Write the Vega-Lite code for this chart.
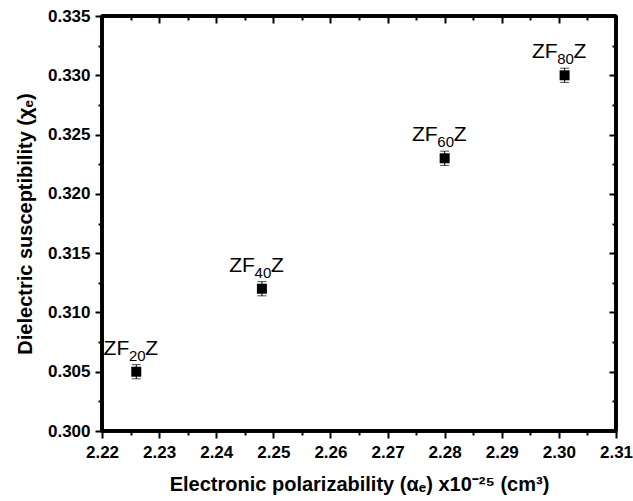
{
  "$schema": "https://vega.github.io/schema/vega-lite/v6.json",
  "width": 514,
  "height": 415,
  "autosize": "none",
  "padding": {"left": 102, "top": 16, "right": 17, "bottom": 70},
  "background": "white",
  "config": {
    "view": {"stroke": "#000000", "strokeWidth": 3},
    "axis": {
      "grid": false,
      "domain": false,
      "tickColor": "#000000",
      "tickWidth": 2,
      "tickOpacity": 1,
      "labelFont": "Liberation Sans",
      "labelFontWeight": "bold",
      "labelFontSize": 17,
      "labelColor": "black",
      "titleFont": "Liberation Sans",
      "titleFontWeight": "bold",
      "titleFontSize": 20,
      "titleColor": "black"
    }
  },
  "data": {
    "values": [
      {"alpha": 2.226, "chi": 0.305, "lo": 0.3044, "hi": 0.3056, "pre": "ZF", "sub": "20", "post": "Z"},
      {"alpha": 2.248, "chi": 0.312, "lo": 0.3114, "hi": 0.3126, "pre": "ZF", "sub": "40", "post": "Z"},
      {"alpha": 2.280, "chi": 0.323, "lo": 0.3224, "hi": 0.3236, "pre": "ZF", "sub": "60", "post": "Z"},
      {"alpha": 2.301, "chi": 0.330, "lo": 0.3294, "hi": 0.3306, "pre": "ZF", "sub": "80", "post": "Z"}
    ]
  },
  "resolve": {"axis": {"x": "independent", "y": "independent"}},
  "layer": [
    {
      "mark": {"type": "rule", "color": "black", "strokeWidth": 1},
      "encoding": {
        "x": {
          "field": "alpha", "type": "quantitative",
          "scale": {"domain": [2.22, 2.31], "nice": false, "zero": false},
          "axis": {
            "orient": "bottom",
            "values": [2.22, 2.225, 2.23, 2.235, 2.24, 2.245, 2.25, 2.255, 2.26, 2.265, 2.27, 2.275, 2.28, 2.285, 2.29, 2.295, 2.3, 2.305, 2.31],
            "labelExpr": "round(datum.value*200) % 2 == 1 ? '' : format(datum.value, '.2f')",
            "tickSize": {"condition": {"test": "round(datum.value*200) % 2 == 1", "value": 4}, "value": 7},
            "labelPadding": 6,
            "labelFlush": false,
            "labelOverlap": false,
            "title": "Electronic polarizability (αₑ) x10⁻²⁵ (cm³)",
            "titlePadding": 14
          }
        },
        "y": {
          "field": "lo", "type": "quantitative",
          "scale": {"domain": [0.3, 0.335], "nice": false, "zero": false},
          "axis": {
            "orient": "left",
            "values": [0.3, 0.3025, 0.305, 0.3075, 0.31, 0.3125, 0.315, 0.3175, 0.32, 0.3225, 0.325, 0.3275, 0.33, 0.3325, 0.335],
            "labelExpr": "round(datum.value*400) % 2 == 1 ? '' : format(datum.value, '.3f')",
            "tickSize": {"condition": {"test": "round(datum.value*400) % 2 == 1", "value": 4}, "value": 7},
            "labelPadding": 5,
            "labelFlush": false,
            "labelOverlap": false,
            "title": "Dielectric susceptibility (χₑ)",
            "titlePadding": 12
          }
        },
        "y2": {"field": "hi"}
      }
    },
    {
      "mark": {"type": "tick", "orient": "horizontal", "color": "black", "size": 9, "thickness": 1},
      "encoding": {
        "x": {"field": "alpha", "type": "quantitative", "axis": null},
        "y": {"field": "lo", "type": "quantitative", "axis": null}
      }
    },
    {
      "mark": {"type": "tick", "orient": "horizontal", "color": "black", "size": 9, "thickness": 1},
      "encoding": {
        "x": {"field": "alpha", "type": "quantitative", "axis": null},
        "y": {"field": "hi", "type": "quantitative", "axis": null}
      }
    },
    {
      "mark": {"type": "square", "size": 100, "color": "black", "filled": true, "opacity": 1},
      "encoding": {
        "x": {
          "field": "alpha", "type": "quantitative",
          "axis": {
            "orient": "top",
            "values": [2.22, 2.225, 2.23, 2.235, 2.24, 2.245, 2.25, 2.255, 2.26, 2.265, 2.27, 2.275, 2.28, 2.285, 2.29, 2.295, 2.3, 2.305, 2.31],
            "labels": false,
            "tickSize": {"condition": {"test": "round(datum.value*200) % 2 == 1", "value": -4}, "value": -7},
            "title": null
          }
        },
        "y": {
          "field": "chi", "type": "quantitative",
          "axis": {
            "orient": "right",
            "values": [0.3, 0.3025, 0.305, 0.3075, 0.31, 0.3125, 0.315, 0.3175, 0.32, 0.3225, 0.325, 0.3275, 0.33, 0.3325, 0.335],
            "labels": false,
            "tickSize": {"condition": {"test": "round(datum.value*400) % 2 == 1", "value": -4}, "value": -7},
            "title": null
          }
        }
      }
    },
    {
      "mark": {"type": "text", "font": "Liberation Sans", "fontSize": 21, "color": "black", "align": "right", "baseline": "alphabetic", "dx": -7, "dy": -17},
      "encoding": {
        "x": {"field": "alpha", "type": "quantitative", "axis": null},
        "y": {"field": "chi", "type": "quantitative", "axis": null},
        "text": {"field": "pre"}
      }
    },
    {
      "mark": {"type": "text", "font": "Liberation Sans", "fontSize": 15, "color": "black", "align": "center", "baseline": "alphabetic", "dx": 1, "dy": -11},
      "encoding": {
        "x": {"field": "alpha", "type": "quantitative", "axis": null},
        "y": {"field": "chi", "type": "quantitative", "axis": null},
        "text": {"field": "sub"}
      }
    },
    {
      "mark": {"type": "text", "font": "Liberation Sans", "fontSize": 21, "color": "black", "align": "left", "baseline": "alphabetic", "dx": 9, "dy": -17},
      "encoding": {
        "x": {"field": "alpha", "type": "quantitative", "axis": null},
        "y": {"field": "chi", "type": "quantitative", "axis": null},
        "text": {"field": "post"}
      }
    },
    {
      "mark": {"type": "rule", "color": "#000000", "strokeWidth": 3, "opacity": 1},
      "encoding": {
        "x": {"datum": 2.22, "type": "quantitative", "axis": null},
        "y": {"datum": 0.3, "type": "quantitative", "axis": null},
        "y2": {"datum": 0.335}
      }
    },
    {
      "mark": {"type": "rule", "color": "#000000", "strokeWidth": 3, "opacity": 1},
      "encoding": {
        "x": {"datum": 2.31, "type": "quantitative", "axis": null},
        "y": {"datum": 0.3, "type": "quantitative", "axis": null},
        "y2": {"datum": 0.335}
      }
    },
    {
      "mark": {"type": "rule", "color": "#000000", "strokeWidth": 3, "opacity": 1},
      "encoding": {
        "y": {"datum": 0.3, "type": "quantitative", "axis": null},
        "x": {"datum": 2.22, "type": "quantitative", "axis": null},
        "x2": {"datum": 2.31}
      }
    },
    {
      "mark": {"type": "rule", "color": "#000000", "strokeWidth": 3, "opacity": 1},
      "encoding": {
        "y": {"datum": 0.335, "type": "quantitative", "axis": null},
        "x": {"datum": 2.22, "type": "quantitative", "axis": null},
        "x2": {"datum": 2.31}
      }
    }
  ]
}
